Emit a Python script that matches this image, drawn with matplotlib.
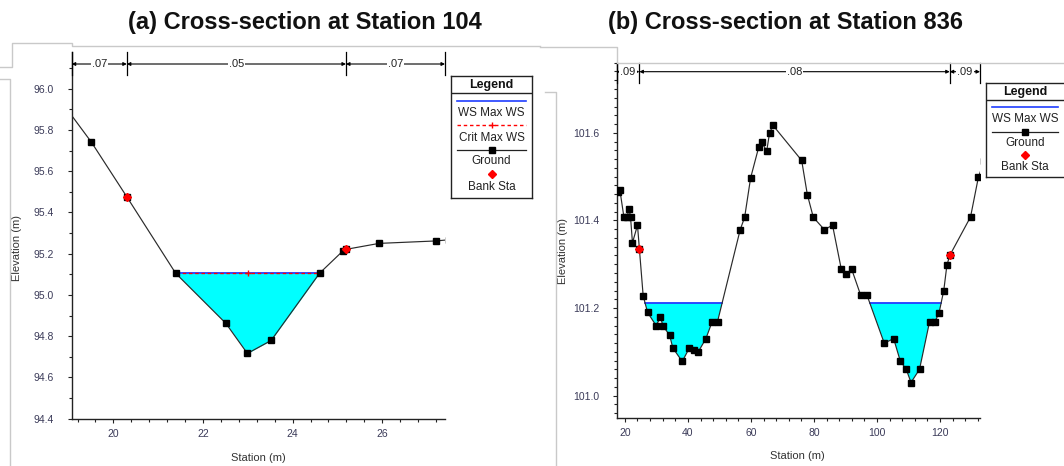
import numpy as np
import matplotlib
matplotlib.use('Agg')
import matplotlib.pyplot as plt
from matplotlib.ticker import MultipleLocator, FormatStrFormatter
from matplotlib.lines import Line2D

# ---------------- data ----------------
# (a) Station 104
sta_a = [18.9, 19.51, 20.30, 21.39, 22.51, 22.99, 23.52, 24.60, 25.12, 25.19, 25.93, 27.21, 27.5]
elev_a = [95.92, 95.741, 95.476, 95.105, 94.862, 94.716, 94.779, 95.105, 95.213, 95.221, 95.250, 95.262, 95.268]
bank_a = [20.30, 25.19]
ws_a = 95.105
crit_a = 95.105
n_a = ['.07', '.05', '.07']

# (b) Station 836
sta_b = [17.7, 18.4, 19.7, 20.7, 21.3, 21.8, 22.4, 24.0, 24.6, 25.8, 27.2, 29.9, 31.3, 32.1,
         34.2, 35.2, 38.2, 40.4, 41.8, 43.2, 45.7, 47.7, 49.4, 56.6, 58.0, 59.9, 62.5, 63.5,
         65.0, 65.9, 67.0, 76.1, 77.9, 79.8, 83.3, 85.9, 88.7, 90.2, 92.0, 94.8, 96.8, 102.3,
         105.3, 107.4, 109.3, 110.8, 113.5, 116.7, 118.4, 119.7, 121.2, 122.2, 123.1, 129.7,
         132.2, 134.0]
elev_b = [101.465, 101.470, 101.407, 101.407, 101.427, 101.407, 101.349, 101.389, 101.335,
          101.228, 101.190, 101.160, 101.179, 101.159, 101.138, 101.109, 101.078, 101.108,
          101.105, 101.099, 101.130, 101.169, 101.169, 101.379, 101.407, 101.497, 101.568,
          101.578, 101.558, 101.599, 101.617, 101.537, 101.459, 101.407, 101.379, 101.389,
          101.288, 101.278, 101.288, 101.230, 101.230, 101.120, 101.130, 101.079, 101.060,
          101.030, 101.060, 101.169, 101.169, 101.189, 101.240, 101.298, 101.320, 101.408,
          101.499, 101.535]
bank_b = [24.6, 123.1]
ws_b = 101.211
n_b = ['.09', '.08', '.09']

titles = ['(a) Cross-section at Station 104', '(b) Cross-section at Station 836']

# ---------------- helpers ----------------
W, H = 1064, 466
plt.rcParams['font.family'] = ['Liberation Sans', 'DejaVu Sans']
fig = plt.figure(figsize=(W / 100, H / 100), dpi=100)
fig.patch.set_facecolor('white')


def px_rect(l, t, r, b):
    return [l / W, 1 - b / H, (r - l) / W, (b - t) / H]


def wet_spans(x, y, ws):
    spans = []
    start = None
    for i in range(len(x) - 1):
        d0, d1 = y[i] - ws, y[i + 1] - ws
        if start is None and d0 >= 0 and d1 < 0:
            start = x[i] + (x[i + 1] - x[i]) * d0 / (d0 - d1)
        elif start is not None and d0 < 0 and d1 >= 0:
            spans.append((start, x[i] + (x[i + 1] - x[i]) * d0 / (d0 - d1)))
            start = None
    return spans


WS_COLOR = '#1f3dff'
TICK_LABEL = '#3a3a58'


def draw_panel(ax, sta, elev, ws, banks, xlim, ylim, n_vals, bar_y, sep_y0,
               xmaj, xmin, ymaj, ymin, crit=None):
    sta = np.asarray(sta)
    elev = np.asarray(elev)
    ax.set_xlim(xlim)
    ax.set_ylim(ylim)
    ax.fill_between(sta, elev, ws, where=elev <= ws, interpolate=True,
                    color='#00FFFF', lw=0, zorder=1)
    for x0, x1 in wet_spans(sta, elev, ws):
        ax.plot([x0, x1], [ws, ws], color=WS_COLOR, lw=1.3, zorder=2)
        if crit is not None:
            ax.plot([x0, x1], [crit, crit], color='red', lw=1.0, ls=(0, (2.5, 2)), zorder=3)
            ax.plot([(x0 + x1) / 2], [crit], ls='none', marker='+', color='red',
                    ms=4, mew=1, zorder=3)
    ax.plot(sta, elev, color='#2a2a2a', lw=0.85, marker='s', ms=4,
            mfc='black', mec='black', zorder=4)
    ax.plot(banks, np.interp(banks, sta, elev), ls='none', marker='D', ms=4.2,
            mfc='red', mec='red', zorder=5)

    # roughness bar
    bounds = [xlim[0]] + list(banks) + [xlim[1]]
    trans = ax.get_xaxis_transform()
    for b in bounds:
        ax.plot([b, b], [sep_y0, 1.0], transform=trans, color='black', lw=0.9,
                clip_on=False, zorder=6)
    for i, n in enumerate(n_vals):
        ax.annotate('', xy=(bounds[i + 1], bar_y), xytext=(bounds[i], bar_y),
                    xycoords=trans, textcoords=trans,
                    arrowprops=dict(arrowstyle='<|-|>', color='black', lw=0.8,
                                    mutation_scale=5, shrinkA=0, shrinkB=0),
                    annotation_clip=False, zorder=6)
        ax.text((bounds[i] + bounds[i + 1]) / 2, bar_y, n, transform=trans,
                ha='center', va='center', fontsize=8, color='#222',
                bbox=dict(facecolor='white', edgecolor='none', pad=0.8), zorder=7)

    ax.spines[['top', 'right']].set_visible(False)
    for s in ['left', 'bottom']:
        ax.spines[s].set_linewidth(1.0)
        ax.spines[s].set_color('#222')
    ax.xaxis.set_major_locator(MultipleLocator(xmaj))
    ax.xaxis.set_minor_locator(MultipleLocator(xmin))
    ax.yaxis.set_major_locator(MultipleLocator(ymaj))
    ax.yaxis.set_minor_locator(MultipleLocator(ymin))
    ax.yaxis.set_major_formatter(FormatStrFormatter('%.1f'))
    ax.xaxis.set_major_formatter(FormatStrFormatter('%d'))
    ax.tick_params(which='both', direction='out', color='#222', width=0.8,
                   labelcolor=TICK_LABEL, labelsize=7.5)
    ax.tick_params(which='major', length=2.6)
    ax.tick_params(which='minor', length=1.9)
    ax.tick_params(axis='y', which='major', pad=10)
    ax.tick_params(axis='x', which='major', pad=4.5)
    ax.set_xlabel('Station (m)', fontsize=8, color='#333')
    ax.set_ylabel('Elevation (m)', fontsize=8, color='#333')


ax_a = fig.add_axes(px_rect(71.7, 51.7, 445, 419))
draw_panel(ax_a, sta_a, elev_a, ws_a, bank_a, (19.07, 27.40), (94.398, 96.18), n_a,
           bar_y=0.9665, sep_y0=0.9366, xmaj=2, xmin=0.4, ymaj=0.2, ymin=0.1, crit=crit_a)
ax_a.xaxis.set_label_coords(0.5, -0.092)
ax_a.yaxis.set_label_coords(-0.133, 0.466)

ax_b = fig.add_axes(px_rect(616.7, 62.7, 980, 418))
draw_panel(ax_b, sta_b, elev_b, ws_b, bank_b, (17.4, 132.7), (100.949, 101.76), n_b,
           bar_y=0.9747, sep_y0=0.9437, xmaj=20, xmin=4, ymaj=0.2, ymin=0.02)
ax_b.xaxis.set_label_coords(0.498, -0.093)
ax_b.yaxis.set_label_coords(-0.135, 0.47)

# titles
fig.text(305 / W, 1 - 23 / H, titles[0], ha='center', va='center',
         fontsize=17, fontweight='bold', color='#111')
fig.text(786 / W, 1 - 23 / H, titles[1], ha='center', va='center',
         fontsize=17, fontweight='bold', color='#111')

# screenshot frame lines (light gray)
def gray_line(pts):
    xs = [p[0] / W for p in pts]
    ys = [1 - p[1] / H for p in pts]
    fig.add_artist(Line2D(xs, ys, color='#c9c9c9', lw=1.0))

gray_line([(0, 67), (11.7, 67), (11.7, 42.7), (72, 42.7), (72, 46), (540, 46)])
gray_line([(0, 79), (9.5, 79), (9.5, 466)])
gray_line([(545, 92), (556, 92), (556, 466)])
gray_line([(540, 47), (616.7, 47), (616.7, 62.7), (1064, 62.7)])


# legends
def draw_legend(l, t, w, h, cx, header_y, sep_y, items, x0, x1):
    lax = fig.add_axes(px_rect(l, t, l + w, t + h))
    lax.set_xlim(0, w)
    lax.set_ylim(h, 0)
    lax.set_xticks([])
    lax.set_yticks([])
    for s in lax.spines.values():
        s.set_linewidth(1.0)
        s.set_color('#222')
    lax.text(cx, header_y, 'Legend', ha='center', va='center', fontsize=9,
             fontweight='bold', color='#111')
    lax.plot([0, w], [sep_y, sep_y], color='#222', lw=1.0)
    for kind, sy, label, ty in items:
        if kind == 'ws':
            lax.plot([x0, x1], [sy, sy], color=WS_COLOR, lw=1.2)
        elif kind == 'crit':
            lax.plot([x0, x1], [sy, sy], color='red', lw=1.0, ls=(0, (2.5, 2)))
            lax.plot([cx], [sy], marker='+', color='red', ms=4, mew=1)
        elif kind == 'ground':
            lax.plot([x0, x1], [sy, sy], color='#222', lw=0.9)
            lax.plot([cx], [sy], marker='s', ms=4, mfc='black', mec='black')
        elif kind == 'bank':
            lax.plot([cx], [sy], marker='D', ms=4.2, mfc='red', mec='red')
        lax.text(cx, ty, label, ha='center', va='center', fontsize=8.5, color='#222')


draw_legend(451, 76, 81, 122, 40.5, 8.8, 17.3,
            [('ws', 24.7, 'WS Max WS', 37.3),
             ('crit', 49.0, 'Crit Max WS', 61.7),
             ('ground', 74.0, 'Ground', 85.0),
             ('bank', 98.3, 'Bank Sta', 110.7)], 6, 75)
draw_legend(986, 83.3, 82, 94, 39, 8.3, 16.7,
            [('ws', 23.4, 'WS Max WS', 35.7),
             ('ground', 48.4, 'Ground', 59.4),
             ('bank', 71.7, 'Bank Sta', 83.4)], 6, 72)

fig.savefig('out.png', dpi=100, facecolor='white')
